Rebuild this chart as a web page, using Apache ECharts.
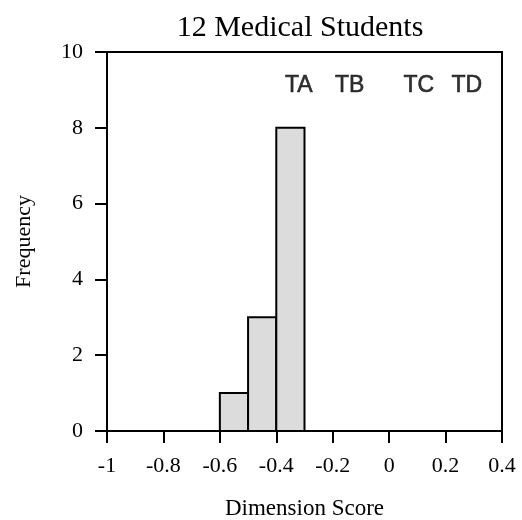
<!DOCTYPE html>
<html>
<head>
<meta charset="utf-8">
<script src="https://cdn.jsdelivr.net/npm/echarts@6/dist/echarts.min.js"></script>
<style>
  html, body { margin: 0; padding: 0; background: #fff; }
  #chart { width: 522px; height: 520px; }
</style>
</head>
<body>
<div id="chart"></div>
<script>
// Histogram bins: lower edge, upper edge, count
const binStart = [-0.6, -0.5, -0.4];
const binEnd   = [-0.5, -0.4, -0.3];
const counts   = [1, 3, 8];

// Reference type markers along the score axis
const markerNames  = ['TA', 'TB', 'TC', 'TD'];
const markerScores = [-0.32, -0.14, 0.105, 0.275];
const markerLevel  = 9.1;

const xTicks = { min: -1, max: 0.4, step: 0.2 };
const yTicks = { min: 0, max: 10, step: 2 };

const serif = '"Liberation Serif", "Times New Roman", serif';
const sans = '"Liberation Sans", Arial, sans-serif';

const chart = echarts.init(document.getElementById('chart'), null, { renderer: 'canvas' });

const binData = binStart.map((s, i) => [s, binEnd[i], counts[i]]);
const markerData = markerNames.map((n, i) => ({ name: n, value: [markerScores[i], markerLevel] }));

chart.setOption({
  animation: false,
  backgroundColor: '#fff',
  graphic: [{
    type: 'text',
    x: 300,
    y: 13,
    style: {
      text: '12 Medical Students',
      font: '30px ' + serif,
      fill: '#000',
      textAlign: 'center',
      textVerticalAlign: 'top'
    }
  }],
  grid: {
    left: 107, right: 20, top: 52, bottom: 89,
    outerBoundsMode: 'none',
    containLabel: false,
    show: true, borderColor: '#000', borderWidth: 2, backgroundColor: 'transparent'
  },
  xAxis: {
    type: 'value',
    min: xTicks.min, max: xTicks.max, interval: xTicks.step,
    name: 'Dimension Score',
    nameLocation: 'middle',
    nameGap: 66,
    nameTextStyle: { fontFamily: serif, fontSize: 23, color: '#000' },
    axisLine: { show: true, onZero: false, lineStyle: { color: '#000', width: 2 } },
    axisTick: { show: true, inside: false, length: 12, lineStyle: { color: '#000', width: 2 } },
    axisLabel: {
      margin: 24, color: '#000', fontFamily: serif, fontSize: 22,
      formatter: v => String(Math.round(v * 10) / 10)
    },
    splitLine: { show: false }
  },
  yAxis: {
    type: 'value',
    min: yTicks.min, max: yTicks.max, interval: yTicks.step,
    name: 'Frequency',
    nameLocation: 'middle',
    nameGap: 72,
    nameTextStyle: { fontFamily: serif, fontSize: 22, color: '#000' },
    axisLine: { show: true, onZero: false, lineStyle: { color: '#000', width: 2 } },
    axisTick: { show: true, inside: false, length: 12, lineStyle: { color: '#000', width: 2 } },
    axisLabel: { margin: 24, color: '#000', fontFamily: serif, fontSize: 22 },
    splitLine: { show: false }
  },
  series: [{
    type: 'custom',
    data: binData,
    encode: { x: [0, 1], y: 2 },
    renderItem: function (params, api) {
      const p0 = api.coord([api.value(0), 0]);
      const p1 = api.coord([api.value(1), api.value(2)]);
      return {
        type: 'rect',
        shape: { x: p0[0], y: p1[1], width: p1[0] - p0[0], height: p0[1] - p1[1] },
        style: { fill: '#dcdcdc', stroke: '#000', lineWidth: 2 }
      };
    }
  }, {
    type: 'scatter',
    data: markerData,
    symbolSize: 0,
    itemStyle: { color: '#000' },
    label: {
      show: true, position: 'inside',
      formatter: p => p.name,
      fontFamily: sans, fontSize: 23, color: '#000',
      textBorderColor: '#000', textBorderWidth: 0.6
    }
  }]
});
</script>
</body>
</html>
